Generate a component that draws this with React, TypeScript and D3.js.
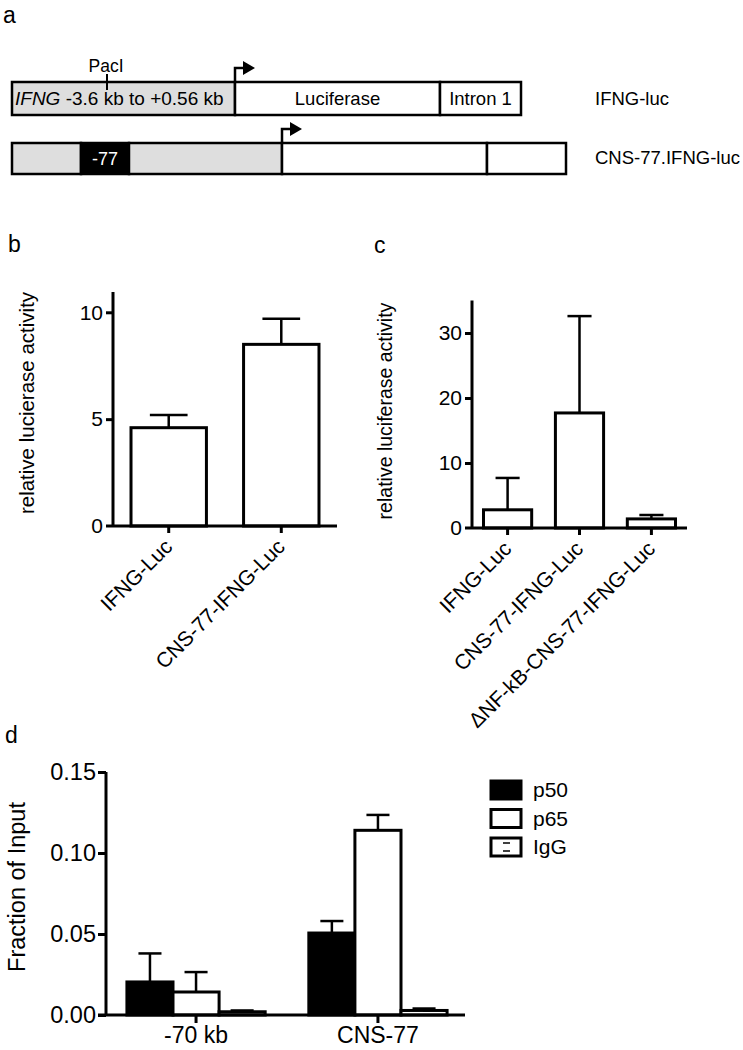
import * as d3 from "d3";
import React, { useEffect, useRef } from "react";

// panel a: construct segments (units along the construct)
const row1Bounds = [0, 223, 428, 509];
const row1Fills = ["#dedede", "#ffffff", "#ffffff"];
const row1Texts = ["", "Luciferase", "Intron 1"];
const row2Bounds = [0, 69, 117, 270, 475, 554];
const row2Fills = ["#dedede", "#000000", "#dedede", "#ffffff", "#ffffff"];
const constructNames = ["IFNG-luc", "CNS-77.IFNG-luc"];

// panel b
const bCategories = ["IFNG-Luc", "CNS-77-IFNG-Luc"];
const bMeans = [4.6, 8.5];
const bErrors = [0.6, 1.2];
const bTicks = [0, 5, 10];

// panel c
const cCategories = ["IFNG-Luc", "CNS-77-IFNG-Luc", "ΔNF-kB-CNS-77-IFNG-Luc"];
const cMeans = [2.8, 17.7, 1.4];
const cErrors = [4.9, 14.9, 0.6];
const cTicks = [0, 10, 20, 30];

// panel d
const dGroups = ["-70 kb", "CNS-77"];
const dSeries = ["p50", "p65", "IgG"];
const p50Values = [0.0204, 0.0506];
const p65Values = [0.0142, 0.114];
const iggValues = [0.0020, 0.0028];
const p50Errors = [0.0176, 0.0074];
const p65Errors = [0.0123, 0.0095];
const iggErrors = [0.0008, 0.0012];
const dTicks = [0, 0.05, 0.1, 0.15];

const FONT = "Liberation Sans, Arial, Helvetica, sans-serif";

function drawBars(svg, opts) {
  const { cats, means, errs, ticks, yMax, x0, x1, yTop, yBottom, tickFont, catFont, label, labelX, labelY, labelFont, axisEnd } = opts;
  const g = svg.append("g");
  const x = d3.scaleBand().domain(cats).range([x0, x1]).paddingInner(0.33).paddingOuter(0.16);
  const y = d3.scaleLinear().domain([0, yMax]).range([yBottom, yTop]);
  const bw = x.bandwidth();

  // bars
  g.selectAll("rect.bar")
    .data(cats)
    .enter()
    .append("rect")
    .attr("x", (d) => x(d))
    .attr("y", (d, i) => y(means[i]))
    .attr("width", bw)
    .attr("height", (d, i) => yBottom - y(means[i]))
    .attr("fill", "#fff")
    .attr("stroke", "#000")
    .attr("stroke-width", 3);

  // error bars
  g.selectAll("line.err")
    .data(cats)
    .enter()
    .append("line")
    .attr("x1", (d) => x(d) + bw / 2)
    .attr("x2", (d) => x(d) + bw / 2)
    .attr("y1", (d, i) => y(means[i]))
    .attr("y2", (d, i) => y(means[i] + errs[i]))
    .attr("stroke", "#000")
    .attr("stroke-width", 2.5);
  g.selectAll("line.cap")
    .data(cats)
    .enter()
    .append("line")
    .attr("x1", (d) => x(d) + bw / 4)
    .attr("x2", (d) => x(d) + (3 * bw) / 4)
    .attr("y1", (d, i) => y(means[i] + errs[i]))
    .attr("y2", (d, i) => y(means[i] + errs[i]))
    .attr("stroke", "#000")
    .attr("stroke-width", 2.5);

  // y axis
  const yAxis = d3.axisLeft(y).tickValues(ticks).tickSize(7).tickPadding(3).tickSizeOuter(0);
  const ya = g.append("g").attr("transform", `translate(${x0},0)`).call(yAxis);
  ya.select(".domain").attr("stroke-width", 3).attr("d", `M0,${yBottom}V${yTop}`);
  ya.selectAll(".tick line").attr("stroke-width", 3);
  ya.selectAll(".tick text").attr("font-size", tickFont).attr("font-family", FONT).attr("fill", "#000");
  ya.select(".tick:first-of-type line").remove();

  // x axis
  g.append("line")
    .attr("x1", x0 - 7)
    .attr("x2", axisEnd)
    .attr("y1", yBottom)
    .attr("y2", yBottom)
    .attr("stroke", "#000")
    .attr("stroke-width", 3);
  g.selectAll("line.xt")
    .data(cats)
    .enter()
    .append("line")
    .attr("x1", (d) => x(d) + bw / 2)
    .attr("x2", (d) => x(d) + bw / 2)
    .attr("y1", yBottom)
    .attr("y2", yBottom + 7)
    .attr("stroke", "#000")
    .attr("stroke-width", 3);
  g.selectAll("text.cat")
    .data(cats)
    .enter()
    .append("text")
    .attr("transform", (d) => `translate(${x(d) + bw / 2 + 5},${yBottom + 22}) rotate(-45)`)
    .attr("text-anchor", "end")
    .attr("font-size", catFont)
    .attr("font-family", FONT)
    .text((d) => d);

  g.append("text")
    .attr("transform", `translate(${labelX},${labelY}) rotate(-90)`)
    .attr("text-anchor", "middle")
    .attr("dy", "0.35em")
    .attr("font-size", labelFont)
    .attr("font-family", FONT)
    .text(label);
}

export default function App() {
  const svgRef = useRef(null);

  useEffect(() => {
    const svg = d3.select(svgRef.current);
    svg.selectAll("*").remove();

    // ---------- panel labels
    const letters = [
      ["a", 3, 23],
      ["b", 8, 252],
      ["c", 374, 253],
      ["d", 5, 743],
    ];
    svg.selectAll("text.letter")
      .data(letters)
      .enter()
      .append("text")
      .attr("x", (d) => d[1])
      .attr("y", (d) => d[2])
      .attr("font-size", 23)
      .attr("font-family", FONT)
      .text((d) => d[0]);

    // ---------- panel a
    const sx = d3.scaleLinear().domain([0, 554]).range([12, 566]);
    const ga = svg.append("g");
    const row1Top = 82, row1H = 33, row2Top = 143, row2H = 31;

    const row1 = row1Fills.map((f, i) => ({ a: row1Bounds[i], b: row1Bounds[i + 1], f, t: row1Texts[i] }));
    ga.selectAll("rect.r1")
      .data(row1)
      .enter()
      .append("rect")
      .attr("x", (d) => sx(d.a))
      .attr("y", row1Top)
      .attr("width", (d) => sx(d.b) - sx(d.a))
      .attr("height", row1H)
      .attr("fill", (d) => d.f)
      .attr("stroke", "#000")
      .attr("stroke-width", 2.5);
    ga.selectAll("text.r1")
      .data(row1.filter((d) => d.t))
      .enter()
      .append("text")
      .attr("x", (d) => (sx(d.a) + sx(d.b)) / 2)
      .attr("y", row1Top + row1H / 2)
      .attr("dy", "0.35em")
      .attr("text-anchor", "middle")
      .attr("font-size", 18.5)
      .attr("font-family", FONT)
      .text((d) => d.t);
    const promoterText = ga.append("text")
      .attr("x", sx(0) + 3)
      .attr("y", row1Top + row1H / 2)
      .attr("dy", "0.35em")
      .attr("font-size", 19)
      .attr("font-family", FONT);
    promoterText.append("tspan").attr("font-style", "italic").text("IFNG");
    promoterText.append("tspan").text(" -3.6 kb to +0.56 kb");

    // PacI site
    ga.append("text")
      .attr("x", 106)
      .attr("y", 72)
      .attr("text-anchor", "middle")
      .attr("font-size", 17.5)
      .attr("font-family", FONT)
      .text("PacI");
    ga.append("line").attr("x1", 107).attr("x2", 107).attr("y1", 74).attr("y2", 90).attr("stroke", "#000").attr("stroke-width", 2);

    const row2 = row2Fills.map((f, i) => ({ a: row2Bounds[i], b: row2Bounds[i + 1], f }));
    ga.selectAll("rect.r2")
      .data(row2)
      .enter()
      .append("rect")
      .attr("x", (d) => sx(d.a))
      .attr("y", row2Top)
      .attr("width", (d) => sx(d.b) - sx(d.a))
      .attr("height", row2H)
      .attr("fill", (d) => d.f)
      .attr("stroke", "#000")
      .attr("stroke-width", 2.5);
    ga.append("text")
      .attr("x", (sx(row2Bounds[1]) + sx(row2Bounds[2])) / 2)
      .attr("y", row2Top + row2H / 2)
      .attr("dy", "0.35em")
      .attr("text-anchor", "middle")
      .attr("font-size", 18)
      .attr("font-family", FONT)
      .attr("fill", "#fff")
      .text("-77");

    // transcription start arrows
    const arrows = [
      [sx(row1Bounds[1]), row1Top],
      [sx(row2Bounds[3]), row2Top],
    ];
    arrows.forEach(([ax, ay]) => {
      ga.append("path")
        .attr("d", `M${ax},${ay}V${ay - 14}H${ax + 9}`)
        .attr("fill", "none")
        .attr("stroke", "#000")
        .attr("stroke-width", 2.5);
      ga.append("path")
        .attr("d", `M${ax + 8},${ay - 21}L${ax + 20},${ay - 14}L${ax + 8},${ay - 7}Z`)
        .attr("fill", "#000");
    });

    ga.selectAll("text.cname")
      .data(constructNames)
      .enter()
      .append("text")
      .attr("x", 595)
      .attr("y", (d, i) => (i === 0 ? 99 : 158))
      .attr("dy", "0.35em")
      .attr("font-size", 18.5)
      .attr("font-family", FONT)
      .text((d) => d);

    // ---------- panel b
    drawBars(svg, {
      cats: bCategories,
      means: bMeans,
      errs: bErrors,
      ticks: bTicks,
      yMax: 10.95,
      x0: 113,
      x1: 337,
      yTop: 292,
      yBottom: 526,
      tickFont: 21,
      catFont: 21,
      label: "relative lucierase activity",
      labelX: 27,
      labelY: 403,
      labelFont: 20.5,
      axisEnd: 337,
    });

    // ---------- panel c
    drawBars(svg, {
      cats: cCategories,
      means: cMeans,
      errs: cErrors,
      ticks: cTicks,
      yMax: 35,
      x0: 472,
      x1: 687,
      yTop: 300.5,
      yBottom: 528,
      tickFont: 21,
      catFont: 21,
      label: "relative luciferase activity",
      labelX: 385,
      labelY: 411,
      labelFont: 19.5,
      axisEnd: 687,
    });

    // ---------- panel d
    const gd = svg.append("g");
    const dx0 = 106, dx1 = 468, dTop = 772, dBottom = 1015;
    const xg = d3.scaleBand().domain(dGroups).range([dx0, dx1]).paddingInner(0.24).paddingOuter(0.115);
    const xs = d3.scaleBand().domain(dSeries).range([0, xg.bandwidth()]);
    const yd = d3.scaleLinear().domain([0, 0.15]).range([dBottom, dTop]);
    const seriesVals = { p50: p50Values, p65: p65Values, IgG: iggValues };
    const seriesErrs = { p50: p50Errors, p65: p65Errors, IgG: iggErrors };
    const seriesFill = { p50: "#000", p65: "#fff", IgG: "url(#iggPattern)" };

    const defs = svg.append("defs");
    const pat = defs.append("pattern")
      .attr("id", "iggPattern")
      .attr("patternUnits", "userSpaceOnUse")
      .attr("width", 20)
      .attr("height", 8);
    pat.append("rect").attr("width", 20).attr("height", 8).attr("fill", "#fff");
    pat.append("line").attr("x1", 3).attr("x2", 10).attr("y1", 3).attr("y2", 3).attr("stroke", "#000").attr("stroke-width", 1.5);

    const cells = [];
    dGroups.forEach((grp, gi) => {
      dSeries.forEach((s) => {
        cells.push({ grp, s, v: seriesVals[s][gi], e: seriesErrs[s][gi] });
      });
    });
    const bwd = xs.bandwidth();
    gd.selectAll("line.derr")
      .data(cells)
      .enter()
      .append("line")
      .attr("x1", (d) => xg(d.grp) + xs(d.s) + bwd / 2)
      .attr("x2", (d) => xg(d.grp) + xs(d.s) + bwd / 2)
      .attr("y1", (d) => yd(d.v))
      .attr("y2", (d) => yd(d.v + d.e))
      .attr("stroke", "#000")
      .attr("stroke-width", 2.5);
    gd.selectAll("line.dcap")
      .data(cells)
      .enter()
      .append("line")
      .attr("x1", (d) => xg(d.grp) + xs(d.s) + bwd / 4)
      .attr("x2", (d) => xg(d.grp) + xs(d.s) + (3 * bwd) / 4)
      .attr("y1", (d) => yd(d.v + d.e))
      .attr("y2", (d) => yd(d.v + d.e))
      .attr("stroke", "#000")
      .attr("stroke-width", 2.5);
    gd.selectAll("rect.dbar")
      .data(cells)
      .enter()
      .append("rect")
      .attr("x", (d) => xg(d.grp) + xs(d.s))
      .attr("y", (d) => yd(d.v))
      .attr("width", bwd)
      .attr("height", (d) => dBottom - yd(d.v))
      .attr("fill", (d) => seriesFill[d.s])
      .attr("stroke", "#000")
      .attr("stroke-width", 3);

    const yAxisD = d3.axisLeft(yd).tickValues(dTicks).tickFormat(d3.format(".2f")).tickSize(8).tickPadding(2).tickSizeOuter(0);
    const yad = gd.append("g").attr("transform", `translate(${dx0},0)`).call(yAxisD);
    yad.select(".domain").attr("stroke-width", 3).attr("d", `M0,${dBottom}V${dTop}`);
    yad.selectAll(".tick line").attr("stroke-width", 3);
    yad.selectAll(".tick text").attr("font-size", 23.5).attr("font-family", FONT).attr("fill", "#000");

    gd.append("line").attr("x1", dx0 - 8).attr("x2", 465).attr("y1", dBottom).attr("y2", dBottom).attr("stroke", "#000").attr("stroke-width", 3);
    gd.selectAll("line.dxt")
      .data(dGroups)
      .enter()
      .append("line")
      .attr("x1", (d) => xg(d) + xg.bandwidth() / 2)
      .attr("x2", (d) => xg(d) + xg.bandwidth() / 2)
      .attr("y1", dBottom)
      .attr("y2", dBottom + 8)
      .attr("stroke", "#000")
      .attr("stroke-width", 3);
    gd.selectAll("text.dx")
      .data(dGroups)
      .enter()
      .append("text")
      .attr("x", (d) => xg(d) + xg.bandwidth() / 2)
      .attr("y", 1043)
      .attr("text-anchor", "middle")
      .attr("font-size", 23)
      .attr("font-family", FONT)
      .text((d) => d);

    gd.append("text")
      .attr("transform", `translate(17,887) rotate(-90)`)
      .attr("text-anchor", "middle")
      .attr("dy", "0.35em")
      .attr("font-size", 23.5)
      .attr("font-family", FONT)
      .text("Fraction of Input");

    // legend
    const lg = gd.append("g");
    lg.selectAll("rect.leg")
      .data(dSeries)
      .enter()
      .append("rect")
      .attr("x", 491)
      .attr("y", (d, i) => 781 + i * 28.5)
      .attr("width", 30)
      .attr("height", 18)
      .attr("fill", (d) => seriesFill[d])
      .attr("stroke", "#000")
      .attr("stroke-width", 3);
    lg.selectAll("text.leg")
      .data(dSeries)
      .enter()
      .append("text")
      .attr("x", 533)
      .attr("y", (d, i) => 790 + i * 28.5)
      .attr("dy", "0.35em")
      .attr("font-size", 21)
      .attr("font-family", FONT)
      .text((d) => d);
  }, []);

  return (
    <svg
      ref={svgRef}
      width={743}
      height={1050}
      viewBox="0 0 743 1050"
      style={{ position: "absolute", left: 0, top: 0, background: "#fff" }}
    />
  );
}
